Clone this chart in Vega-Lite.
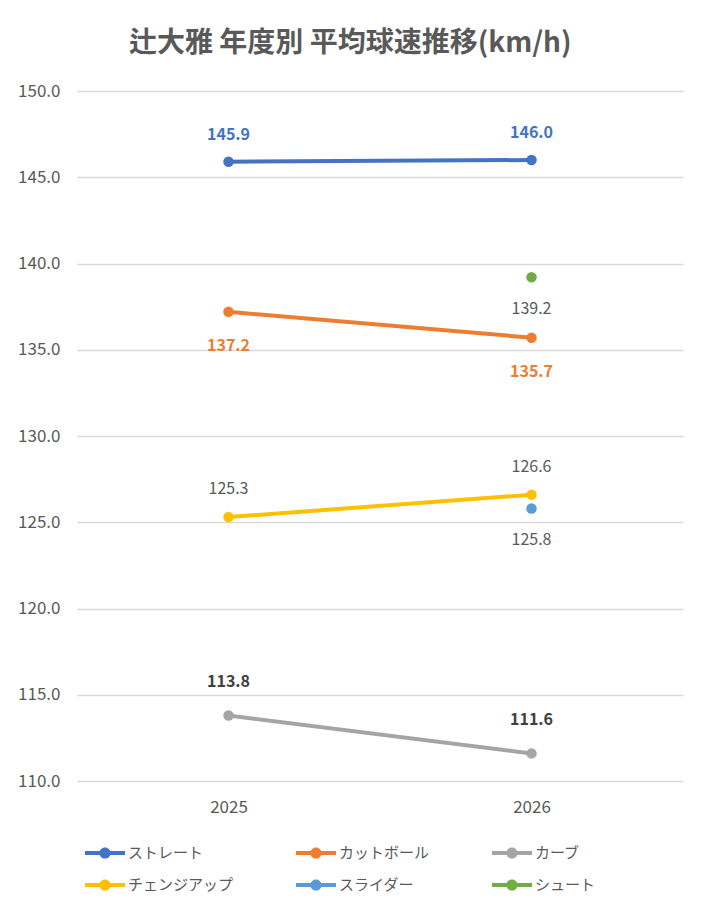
{
  "$schema": "https://vega.github.io/schema/vega-lite/v6.json",
  "title": {
    "text": "辻大雅 年度別 平均球速推移(km/h)",
    "fontSize": 28,
    "fontWeight": "bold",
    "color": "#595959",
    "font": "Noto Sans CJK JP",
    "anchor": "middle",
    "frame": "bounds",
    "offset": 24
  },
  "autosize": "none",
  "width": 606,
  "height": 690,
  "padding": {"left": 77, "top": 91, "right": 22, "bottom": 122},
  "background": "white",
  "config": {
    "view": {"stroke": null},
    "font": "Noto Sans CJK JP",
    "axis": {"labelColor": "#595959", "labelFontSize": 17, "labelFont": "Noto Sans CJK JP"}
  },
  "data": {
    "values": [
      {"year": "2025", "pitch": "ストレート", "speed": 145.9},
      {"year": "2026", "pitch": "ストレート", "speed": 146.0},
      {"year": "2025", "pitch": "カットボール", "speed": 137.2},
      {"year": "2026", "pitch": "カットボール", "speed": 135.7},
      {"year": "2025", "pitch": "カーブ", "speed": 113.8},
      {"year": "2026", "pitch": "カーブ", "speed": 111.6},
      {"year": "2025", "pitch": "チェンジアップ", "speed": 125.3},
      {"year": "2026", "pitch": "チェンジアップ", "speed": 126.6},
      {"year": "2026", "pitch": "スライダー", "speed": 125.8},
      {"year": "2026", "pitch": "シュート", "speed": 139.2}
    ]
  },
  "encoding": {
    "x": {
      "field": "year",
      "type": "ordinal",
      "scale": {"type": "point", "padding": 0.5},
      "axis": {"title": null, "labelAngle": 0, "domain": false, "ticks": false, "labelPadding": 18}
    },
    "y": {
      "field": "speed",
      "type": "quantitative",
      "scale": {"domain": [110, 150], "zero": false, "nice": false},
      "axis": {
        "title": null,
        "values": [110, 115, 120, 125, 130, 135, 140, 145, 150],
        "format": ".1f",
        "domain": false,
        "ticks": false,
        "labelPadding": 17,
        "gridColor": "#D9D9D9",
        "gridWidth": 1.3
      }
    }
  },
  "layer": [
    {
      "mark": {"type": "line", "strokeWidth": 4},
      "encoding": {
        "color": {
          "field": "pitch",
          "type": "nominal",
          "scale": {
            "domain": ["ストレート", "カットボール", "カーブ", "チェンジアップ", "スライダー", "シュート"],
            "range": ["#4472C4", "#ED7D31", "#A5A5A5", "#FFC000", "#5B9BD5", "#70AD47"]
          },
          "legend": {
            "title": null,
            "orient": "none",
            "legendX": 8,
            "legendY": 742,
            "direction": "horizontal",
            "columns": 3,
            "columnPadding": 62,
            "rowPadding": 4,
            "labelFontSize": 15,
            "labelColor": "#595959",
            "labelFont": "Noto Sans CJK JP",
            "labelOffset": 3,
            "symbolType": "M-1,-0.1L1,-0.1L1,0.1L-1,0.1Z M0.28,0A0.28,0.28,0,1,1,-0.28,0A0.28,0.28,0,1,1,0.28,0Z",
            "symbolSize": 1600,
            "symbolStrokeWidth": 0,
            "encode": {
              "symbols": {
                "update": {
                  "fill": {"scale": "color", "field": "value"},
                  "stroke": {"value": "transparent"}
                }
              }
            }
          }
        }
      }
    },
    {
      "mark": {"type": "point", "filled": true, "size": 110, "opacity": 1},
      "encoding": {"color": {"field": "pitch", "type": "nominal"}}
    },
    {
      "transform": [{"filter": "datum.pitch == 'ストレート'"}],
      "mark": {"type": "text", "dy": -27, "fontSize": 16, "fontWeight": 600, "color": "#4472C4"},
      "encoding": {"text": {"field": "speed", "type": "quantitative", "format": ".1f"}}
    },
    {
      "transform": [{"filter": "datum.pitch == 'カットボール'"}],
      "mark": {"type": "text", "dy": 34, "fontSize": 16, "fontWeight": 600, "color": "#ED7D31"},
      "encoding": {"text": {"field": "speed", "type": "quantitative", "format": ".1f"}}
    },
    {
      "transform": [{"filter": "datum.pitch == 'カーブ'"}],
      "mark": {"type": "text", "dy": -33, "fontSize": 16, "fontWeight": "bold", "color": "#404040"},
      "encoding": {"text": {"field": "speed", "type": "quantitative", "format": ".1f"}}
    },
    {
      "transform": [{"filter": "datum.pitch == 'チェンジアップ'"}],
      "mark": {"type": "text", "dy": -28, "fontSize": 16, "color": "#595959"},
      "encoding": {"text": {"field": "speed", "type": "quantitative", "format": ".1f"}}
    },
    {
      "transform": [{"filter": "datum.pitch == 'スライダー' || datum.pitch == 'シュート'"}],
      "mark": {"type": "text", "dy": 32, "fontSize": 16, "color": "#595959"},
      "encoding": {"text": {"field": "speed", "type": "quantitative", "format": ".1f"}}
    }
  ]
}
